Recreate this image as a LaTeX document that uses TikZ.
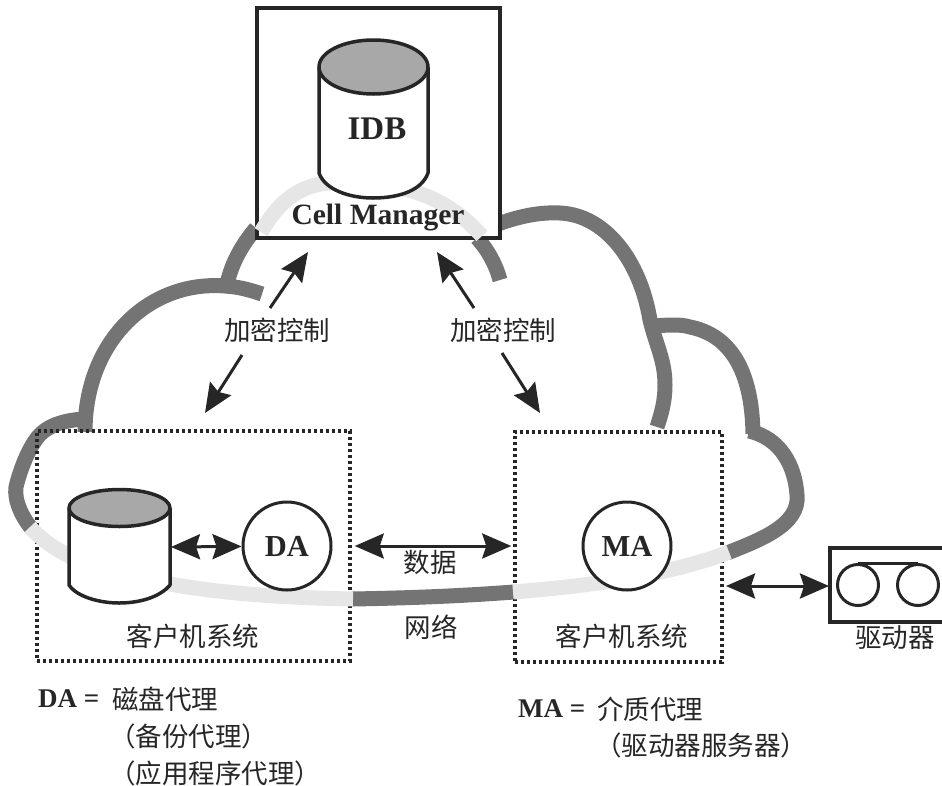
\documentclass[tikz,border=0pt]{standalone}
\usepackage{fontspec}
\setmainfont{Liberation Serif}
\newfontfamily\cjk{Noto Sans CJK SC}
\usetikzlibrary{arrows.meta}
\definecolor{inkc}{HTML}{262626}
\definecolor{clouddark}{HTML}{747474}
\definecolor{cloudlight}{HTML}{E6E6E6}
\definecolor{cyltop}{HTML}{A8A8A8}
\tikzset{
  darkseg/.style={draw=clouddark, line width=15pt},
  lightseg/.style={draw=cloudlight, line width=15pt},
  dotbox/.style={draw=inkc, line width=3.5pt, dash pattern=on 3.2pt off 2.8pt, minimum width=313pt, minimum height=230pt, inner sep=0pt},
  cylline/.style={draw=inkc, line width=3.5pt, line join=round},
  agent/.style={circle, draw=inkc, line width=3pt, fill=white, minimum size=88pt, inner sep=0pt, font=\bfseries\fontsize{30.5}{30.5}\selectfont, text=inkc},
  reel/.style={circle, draw=inkc, line width=3pt, minimum size=41pt, inner sep=0pt},
  bigarrow/.style={draw=inkc, line width=3pt, {Stealth[length=29pt,width=25pt,inset=4pt]}-{Stealth[length=29pt,width=25pt,inset=4pt]}},
  onearrow/.style={draw=inkc, line width=3pt, -{Stealth[length=29pt,width=25pt,inset=4pt]}},
  zh/.style={inner sep=0pt, text=inkc, font=\cjk\fontsize{26.5}{26.5}\selectfont},
  latin/.style={inner sep=0pt, text=inkc, font=\bfseries\fontsize{29.5}{29.5}\selectfont},
  legendterm/.style={latin, anchor=west, font=\bfseries\fontsize{27}{27}\selectfont}
}
\begin{document}
\begin{tikzpicture}[x=1pt, y=-1pt]
  \useasboundingbox (0,0) rectangle (942,785);
  % cloud, dark parts
  \draw [darkseg] (85,432) .. controls (85,340) and (150,280) .. (225,286) .. controls (240,287) and (250,290) .. (262,294);
  \draw [darkseg] (227,284) .. controls (232,262) and (242,245) .. (256,228);
  \draw [darkseg] (477,238) .. controls (488,250) and (496,265) .. (500,280);
  \draw [darkseg] (498,224) .. controls (520,216) and (540,212) .. (560,213) .. controls (605,215) and (640,260) .. (650,320) .. controls (656,345) and (665,360) .. (665,385) .. controls (665,400) and (662,412) .. (657,427);
  \draw [darkseg] (650,326) .. controls (670,325) and (680,324) .. (690,327) .. controls (730,335) and (752,370) .. (753,434);
  \draw [darkseg] (749,431) .. controls (780,438) and (795,465) .. (797,495) .. controls (800,525) and (760,540) .. (727,553);
  \draw [darkseg] (33,530) .. controls (22,518) and (14,500) .. (16,487) .. controls (20,470) and (28,450) .. (37,438) .. controls (47,425) and (65,420) .. (85,419);
  \draw [darkseg] (352,599) .. controls (410,598) and (460,596) .. (514,592);
  % cell manager
  \node [draw=inkc, line width=4pt, fill=white, minimum width=243pt, minimum height=230pt, inner sep=0pt] (cellbox) at (378.5,123) {};
  % client boxes
  \node [dotbox] (clientA) at (193.5,546) {};
  \node [dotbox, minimum width=207pt] (clientB) at (618.5,547) {};
  % cloud, light parts
  \draw [lightseg] (261,232) .. controls (280,200) and (300,185) .. (330,183) .. controls (400,180) and (445,195) .. (482,236);
  \draw [lightseg] (30,527) .. controls (60,560) and (110,575) .. (170,584) .. controls (230,595) and (300,598) .. (353,599);
  \draw [lightseg] (513,592) .. controls (590,586) and (670,575) .. (729,552);
  % cylinders
  \draw [cylline, fill=white] (319,67) -- (319,173) .. controls (325,190) and (350,198) .. (373,198) .. controls (400,198) and (422,190) .. (428,173) -- (428,67);
  \draw [cylline, fill=cyltop] (373.5,67) ellipse (54.5pt and 27pt);
  \draw [cylline, fill=white] (69,508) -- (69,585) .. controls (77,597) and (100,603) .. (119,603) .. controls (140,603) and (160,597) .. (170,585) -- (170,508);
  \draw [cylline, fill=cyltop] (119.5,508) ellipse (50.5pt and 18.5pt);
  \coordinate (cylA) at (171,547);
  \node [latin, font=\bfseries\fontsize{33}{33}\selectfont] (idb) at (377,129) {IDB};
  \node [latin] (cellname) at (378,218) {Cell Manager};
  % agents
  \node [agent] (da) at (287,546) {DA};
  \node [agent] (ma) at (627,546) {MA};
  % drive
  \draw [draw=inkc, line width=3.5pt] (942,548) -- (830,548) -- (830,622) -- (942,622);
  \coordinate (drive) at (829,586);
  \coordinate (clientBout) at (726,586);
  \node [reel] (reelA) at (858,585) {};
  \node [reel] (reelB) at (918,585) {};
  \draw [draw=inkc, line width=3pt] (reelA.north) -- (reelB.north);
  \node [zh] (drivename) at (895,638) {驱动器};
  % arrows
  \draw [bigarrow] (cylA) -- (da);
  \draw [bigarrow] (clientA.east |- da) ++(3,0) -- ([xshift=-2pt]clientB.west |- da);
  \draw [bigarrow] (clientBout) -- (drive);
  \node [zh] (ctrlA) at (277,330) {加密控制};
  \node [zh] (ctrlB) at (503,330) {加密控制};
  \coordinate (ctrlAup) at (270,308);
  \coordinate (ctrlAtip) at (308,252);
  \coordinate (ctrlAdown) at (242,355);
  \coordinate (ctrlAend) at (205,413);
  \coordinate (ctrlBup) at (474,308);
  \coordinate (ctrlBtip) at (437,252);
  \coordinate (ctrlBdown) at (502,353);
  \coordinate (ctrlBend) at (540,413);
  \draw [onearrow] (ctrlAup) -- (ctrlAtip);
  \draw [onearrow] (ctrlAdown) -- (ctrlAend);
  \draw [onearrow] (ctrlBup) -- (ctrlBtip);
  \draw [onearrow] (ctrlBdown) -- (ctrlBend);
  % labels
  \node [zh] (datalabel) at (430,562) {数据};
  \node [zh] (netlabel) at (431,627) {网络};
  \node [zh] (clientAname) at (193,636) {客户机系统};
  \node [zh] (clientBname) at (622,636) {客户机系统};
  % legend
  \node [legendterm] (daterm) at (38,699) {DA =};
  \node [zh, anchor=west] (dadesc) at (112,699) {磁盘代理};
  \node [zh, anchor=west] (daback) at (109,736) {（备份代理）};
  \node [zh, anchor=west] (daapp) at (109,773) {（应用程序代理）};
  \node [legendterm] (materm) at (518,709) {MA =};
  \node [zh, anchor=west] (madesc) at (597,709) {介质代理};
  \node [zh, anchor=west] (madrv) at (595,745) {（驱动器服务器）};
\end{tikzpicture}
\end{document}
